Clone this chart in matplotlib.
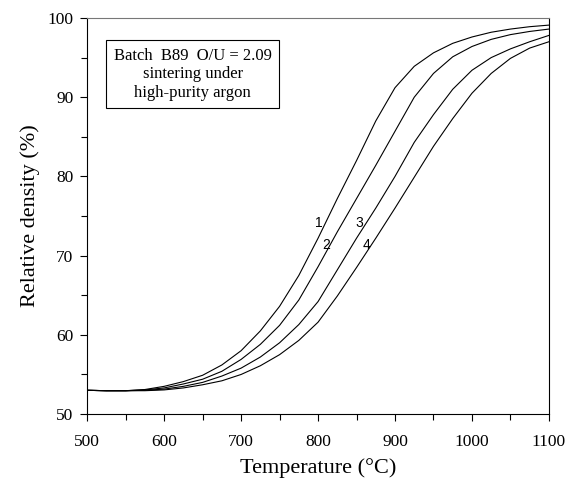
import numpy as np
import matplotlib.pyplot as plt
from matplotlib.ticker import MultipleLocator

# temperature (°C)
temp = [500, 525, 550, 575, 600, 625, 650, 675, 700, 725, 750, 775, 800,
        825, 850, 875, 900, 925, 950, 975, 1000, 1025, 1050, 1075, 1100]

# relative density (%) for the four runs
d1 = [53.0, 52.95, 52.95, 53.1, 53.5, 54.1, 54.9, 56.2, 58.0, 60.5, 63.6, 67.5, 72.2,
      77.2, 82.0, 87.0, 91.2, 93.9, 95.6, 96.8, 97.6, 98.2, 98.6, 98.9, 99.1]
d2 = [53.0, 52.95, 52.95, 53.05, 53.3, 53.8, 54.4, 55.4, 56.9, 58.8, 61.2, 64.4, 68.6,
      73.0, 77.2, 81.4, 85.7, 90.0, 93.0, 95.1, 96.4, 97.3, 97.9, 98.3, 98.6]
d3 = [53.0, 52.95, 52.95, 53.0, 53.15, 53.5, 54.0, 54.8, 55.8, 57.2, 59.0, 61.3, 64.2,
      68.2, 72.2, 76.0, 80.0, 84.3, 87.8, 91.0, 93.4, 95.0, 96.1, 97.0, 97.8]
d4 = [53.0, 52.95, 52.95, 52.95, 53.05, 53.3, 53.7, 54.2, 55.0, 56.1, 57.5, 59.3, 61.6,
      64.9, 68.5, 72.2, 76.0, 79.9, 83.8, 87.3, 90.5, 93.0, 94.9, 96.2, 97.0]

curve_labels = ['1', '2', '3', '4']
label_x = [801, 811, 854, 863]
label_y = [74.1, 71.3, 74.1, 71.3]

plt.rcParams['font.family'] = 'Liberation Serif'

fig = plt.figure(figsize=(5.7, 4.86), dpi=100)
ax = fig.add_axes([0.153, 0.148, 0.81, 0.815])

for d in [d1, d2, d3, d4]:
    ax.plot(temp, d, color='black', lw=0.8)

for lab, x, y in zip(curve_labels, label_x, label_y):
    ax.text(x, y, lab, family='Liberation Sans', fontsize=10, ha='center', va='center')

ax.text(637, 92.9, 'Batch  B89  O/U = 2.09\nsintering under\nhigh-purity argon',
        ha='center', va='center', fontsize=12, linespacing=1.2,
        bbox=dict(boxstyle='square,pad=0.45', facecolor='white', edgecolor='black', lw=0.8))

ax.set_xlim(500, 1100)
ax.set_ylim(50, 100)
ax.xaxis.set_major_locator(MultipleLocator(100))
ax.xaxis.set_minor_locator(MultipleLocator(50))
ax.yaxis.set_major_locator(MultipleLocator(10))
ax.yaxis.set_minor_locator(MultipleLocator(5))
ax.tick_params(which='both', direction='out', top=False, right=False, labelsize=12.5)
ax.tick_params(which='major', length=5, width=0.8)
ax.tick_params(which='minor', length=4, width=0.8)
ax.tick_params(axis='x', pad=9)
ax.tick_params(axis='y', pad=5)

for s in ax.spines.values():
    s.set_linewidth(0.8)
ax.spines['top'].set_color('#777777')

ax.set_xlabel('Temperature (°C)', fontsize=16, labelpad=6)
ax.set_ylabel('Relative density (%)', fontsize=16, labelpad=5)

fig.savefig('out.png', dpi=100)
